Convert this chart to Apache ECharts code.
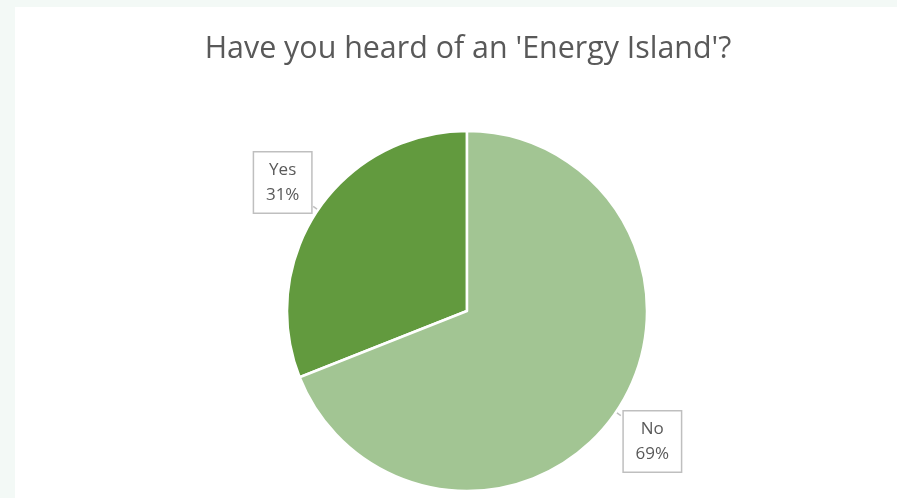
<!DOCTYPE html>
<html>
<head>
<meta charset="utf-8">
<script src="https://cdn.jsdelivr.net/npm/echarts@6/dist/echarts.min.js"></script>
<style>
  html, body { margin: 0; padding: 0; background: #f3f9f6; }
  #chart { width: 897px; height: 498px; }
</style>
</head>
<body>
<div id="chart"></div>
<script>
  // 数据
  const titleText = "Have you heard of an 'Energy Island'?";
  const answers = ["Yes", "No"];
  const shares = [31, 69];
  const sliceColors = ["#629a3e", "#a2c593"];

  const chart = echarts.init(document.getElementById("chart"), null, { renderer: "canvas" });

  const option = {
    backgroundColor: "#f3f9f6",
    animation: false,
    graphic: [
      {
        type: "rect",
        z: -10,
        shape: { x: 15, y: 7, width: 897, height: 498 },
        style: { fill: "#ffffff" },
      },
    ],
    title: {
      text: titleText,
      left: 463,
      top: 29,
      textAlign: "center",
      textStyle: {
        fontFamily: "Open Sans",
        fontSize: 30.4,
        fontWeight: "normal",
        color: "#595959",
      },
    },
    series: [
      {
        type: "pie",
        center: [467, 311],
        radius: 180,
        startAngle: 90,
        clockwise: false,
        data: answers.map((name, i) => ({
          name,
          value: shares[i],
          itemStyle: { color: sliceColors[i] },
        })),
        itemStyle: { borderColor: "#ffffff", borderWidth: 2.5 },
        label: {
          position: "outside",
          formatter: "{t|{b}}\n{t|{c}%}",
          backgroundColor: "#ffffff",
          borderColor: "#bfbfbf",
          borderWidth: 1.5,
          padding: [5, 11, 5, 11],
          rich: {
            t: {
              fontFamily: "Open Sans",
              fontSize: 17,
              lineHeight: 25,
              color: "#595959",
              width: 35,
              align: "center",
            },
          },
        },
        labelLine: {
          show: true,
          length: 6,
          length2: 0,
          lineStyle: { color: "#bfbfbf", width: 1.5 },
        },
        // 标签往上下推开，接近原图的标注框位置
        labelLayout: function (params) {
          const r = params.labelRect;
          const up = r.y + r.height / 2 < 311;
          return { dy: up ? -24 : 26, dx: up ? 3 : -2 };
        },
        emphasis: { disabled: true },
      },
    ],
  };

  chart.setOption(option);
</script>
</body>
</html>
